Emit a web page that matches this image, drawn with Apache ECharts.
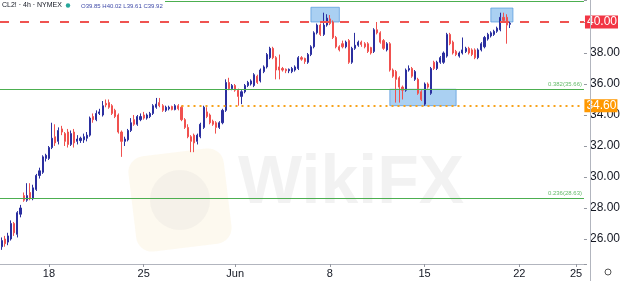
<!DOCTYPE html>
<html><head><meta charset="utf-8">
<script src="https://cdn.jsdelivr.net/npm/echarts@6/dist/echarts.min.js"></script>
<style>html,body{margin:0;padding:0;background:#fff}#c{width:623px;height:281px}</style>
</head><body><div id="c"></div>
<script>
// 4h candles, CL2! (NYMEX), mid-May to 19 Jun
const opens = [25.5,26.0,25.8,26.0,27.0,26.3,27.6,28.8,28.5,29.0, 28.6,29.2,30.1,30.3,31.2,31.2,31.9,32.6,32.3,33.1, 32.8,32.9,32.1,32.9,32.3,32.35,32.4,32.5,32.7,33.9, 33.7,34.1,34.0,34.75,34.8,34.6,34.3,34.0,32.9,32.3, 32.4,33.0,33.7,33.4,33.7,34.0,33.8,33.9,34.1,34.5, 34.8,34.6,34.3,34.4,34.55,34.35,34.6,34.5,33.7,33.2, 32.6,32.7,32.3,32.6,33.2,34.2,34.0,33.6,33.5,33.2, 33.5,34.3,36.1,35.7,35.9,35.6,35.2,35.5,35.9,36.0, 35.9,36.5,36.2,36.8,37.1,37.7,38.3,37.7,37.1,37.0, 36.95,36.85,36.8,36.9,37.0,37.7,37.65,37.4,37.9,38.4, 39.3,39.8,39.2,39.8,40.2,40.0,39.0,38.4,38.6,38.4, 38.8,37.4,38.3,38.5,38.7,38.6,38.6,38.35,38.1,39.5, 39.3,38.8,38.2,38.6,36.9,36.8,36.4,35.8,35.6,36.9, 37.0,36.3,36.3,35.5,34.7,36.0,35.4,37.4,37.0,37.4, 37.4,37.8,39.2,38.7,38.1,37.8,38.0,38.1,38.3,38.2, 38.2,37.7,38.2,38.4,38.9,39.1,39.2,39.4,39.5,40.3, 40.3,39.85];
const closes = [25.9,25.7,26.2,27.0,26.4,27.7,28.0,28.5,28.8,28.6, 29.3,30.1,30.4,31.3,31.4,31.9,32.5,32.2,33.0,32.9, 32.3,32.1,32.8,32.2,32.45,32.5,32.6,32.7,33.8,33.7, 34.1,34.2,34.6,34.65,34.5,34.1,33.9,32.9,32.3,32.45, 33.0,33.5,33.4,33.9,33.9,33.8,34.0,34.1,34.6,34.7, 34.6,34.3,34.5,34.5,34.35,34.6,34.4,33.7,33.2,32.6, 32.3,32.2,32.7,33.4,34.5,33.9,33.5,33.4,33.2,33.5, 34.3,36.1,35.7,35.9,35.6,35.2,35.5,35.9,36.1,36.2, 36.6,36.1,36.9,37.1,37.9,38.3,37.7,36.9,36.9,36.9, 36.85,36.95,37.0,37.1,37.7,37.6,37.45,37.9,38.4,39.3, 39.8,39.2,39.8,40.25,39.9,39.0,38.4,38.2,38.4,38.7, 37.4,38.3,38.5,38.7,38.55,38.4,38.1,38.0,39.5,39.3, 38.7,38.3,38.6,36.9,36.5,36.3,35.8,35.6,36.9,37.0, 36.5,36.8,35.4,35.0,36.0,35.8,37.0,37.0,37.4,37.7, 38.0,39.2,38.6,38.0,37.9,38.0,38.2,38.3,38.0,37.9, 37.7,38.2,38.6,39.0,39.2,39.3,39.4,39.6,40.3,40.1, 39.8,39.92];
const lows = [25.3,25.5,25.6,25.9,26.2,26.1,27.4,28.4,28.4,28.5, 28.5,29.1,29.9,30.2,31.0,31.1,31.8,32.0,32.1,32.7, 32.0,31.9,32.0,31.9,32.1,32.2,32.2,32.3,32.6,33.5, 33.6,34.0,33.9,34.5,34.4,34.0,33.8,32.8,31.3,32.0, 32.3,32.9,33.3,33.3,33.6,33.7,33.7,33.8,34.0,34.4, 34.5,34.2,34.2,34.3,34.3,34.3,34.3,33.6,33.1,32.5, 31.6,31.6,32.1,32.5,33.1,33.8,33.4,33.3,32.8,33.1, 33.4,34.2,35.6,35.6,35.5,34.6,34.7,35.4,35.8,35.9, 35.8,36.0,36.1,36.7,37.0,37.6,37.6,36.3,36.3,36.8, 36.7,36.7,36.7,36.8,36.9,37.5,37.3,37.3,37.8,38.3, 39.2,39.1,39.1,39.7,39.8,38.9,38.3,38.1,38.3,38.3, 37.3,37.3,38.2,38.4,38.4,38.3,38.0,37.9,38.0,39.2, 38.6,38.2,38.1,36.8,36.4,34.8,34.8,35.0,35.5,36.8, 36.4,36.2,35.3,34.9,34.6,35.7,35.3,36.9,36.9,37.3, 37.3,37.7,38.5,37.9,37.8,37.7,37.9,38.0,37.9,37.8, 37.6,37.6,38.1,38.3,38.8,39.0,39.1,39.3,39.4,40.0, 38.6,39.61];
const highs = [26.1,26.2,26.4,27.2,27.1,27.8,28.2,29.0,29.6,29.6, 29.5,30.2,30.6,31.4,31.5,32.0,33.5,33.4,33.2,33.3, 32.9,33.1,33.0,33.1,32.7,32.6,32.8,32.9,33.9,34.1, 34.3,34.4,34.9,35.0,35.0,34.7,34.4,34.1,33.0,32.6, 33.1,33.8,34.0,34.0,34.1,34.2,34.1,34.2,34.7,35.1, 35.1,34.7,34.6,34.6,34.6,34.7,34.7,34.6,33.8,33.4, 32.7,32.8,32.8,33.5,34.6,34.5,34.1,33.7,33.6,33.6, 34.4,36.3,36.4,36.0,36.0,35.7,35.6,36.0,36.2,36.3, 36.7,36.6,37.0,37.2,38.0,38.4,38.4,37.8,37.9,37.1, 37.0,37.0,37.1,37.2,37.8,37.8,37.7,38.0,38.5,39.4, 39.9,39.9,40.6,40.5,40.45,40.1,39.1,38.5,38.8,38.8, 38.9,38.4,39.3,38.8,38.8,38.7,38.7,38.4,39.6,40.0, 39.4,38.9,38.7,38.7,37.0,36.9,36.5,35.9,37.0,37.2, 37.1,36.9,36.4,35.6,36.1,36.1,37.1,37.5,37.5,37.8, 38.1,39.3,39.3,38.8,38.2,38.1,39.0,38.4,38.4,38.3, 38.3,38.3,38.7,39.1,39.3,39.4,39.5,39.7,40.6,40.6, 40.5,40.02];

const slotCount = 185;                       // bar slots shown on the time axis
const tickIndex = [15, 45, 74, 104, 134, 164, 182];
const tickLabels = ['18', '25', 'Jun', '8', '15', '22', '25'];

const resistance = 40.00;
const support = 34.60;
const fibTop = 41.35;
const fib382 = 35.66;
const fib236 = 28.63;
const supportStart = 57;                      // bar where the 34.60 line begins

// highlighted zones [startBar, endBar, low, high]
const zones = [[98, 107, 40.0, 40.95], [123, 144, 34.6, 35.66], [155, 162, 40.0, 40.9]];

const cats = Array.from({length: slotCount}, (_, i) => String(i));
const candles = opens.map((o, i) => [o, closes[i], lows[i], highs[i]]);
const labelOf = {};
tickIndex.forEach((t, k) => labelOf[t] = tickLabels[k]);

const chart = echarts.init(document.getElementById('c'), null, {renderer: 'canvas'});
const FONT = 'Liberation Sans';
const green = '#4caf50';

chart.setOption({
  animation: false,
  backgroundColor: '#ffffff',
  grid: {left: 0, right: 33, top: 0, bottom: 17},
  xAxis: {
    type: 'category', data: cats, boundaryGap: true,
    axisLine: {lineStyle: {color: '#b2b5be', width: 1}},
    axisTick: {show: true, alignWithLabel: true, length: 3, interval: (i) => labelOf[i] !== undefined, lineStyle: {color: '#9598a1'}},
    axisLabel: {interval: (i) => labelOf[i] !== undefined, formatter: (v, i) => labelOf[i] || '', color: '#131722', fontSize: 11, fontFamily: FONT, margin: 4},
    splitLine: {show: false}
  },
  yAxis: {
    type: 'value', position: 'right', min: 24.387, max: 41.419, splitNumber: 8,
    axisLine: {show: false},
    axisTick: {show: true, length: 3, lineStyle: {color: '#9598a1'}},
    splitLine: {show: false},
    axisLabel: {
      color: '#131722', fontSize: 12, fontFamily: FONT, margin: 6,
      formatter: (v) => { const r = Math.round(v); if (Math.abs(v - r) > 1e-6 || r % 2 !== 0 || r === 40) return ''; return v.toFixed(2); }
    }
  },
  series: [{
    type: 'candlestick', data: candles, barWidth: 1.6,
    itemStyle: {color: '#2b2f9f', color0: '#f0514f', borderColor: '#2b2f9f', borderColor0: '#f0514f', borderWidth: 1},
    markArea: {
      silent: true,
      itemStyle: {color: 'rgba(100,170,232,0.55)', borderColor: 'rgba(80,150,220,0.7)', borderWidth: 1},
      data: zones.map(z => [{xAxis: z[0], yAxis: z[2]}, {xAxis: z[1], yAxis: z[3]}])
    },
    markLine: {
      silent: true, symbol: 'none', animation: false,
      data: [
        {yAxis: fibTop, lineStyle: {color: green, width: 1, type: 'solid'}, label: {show: false}},
        {yAxis: fib382, lineStyle: {color: green, width: 1, type: 'solid'},
          label: {show: true, position: 'insideEndTop', formatter: '0.382(35.66)', fontSize: 6, color: '#66bb6a', fontFamily: FONT, distance: 2}},
        {yAxis: fib236, lineStyle: {color: green, width: 1, type: 'solid'},
          label: {show: true, position: 'insideEndTop', formatter: '0.236(28.63)', fontSize: 6, color: '#66bb6a', fontFamily: FONT, distance: 2}},
        {yAxis: resistance, lineStyle: {color: '#ef5350', width: 2, type: [9, 11]},
          label: {show: true, position: 'end', distance: 1, formatter: resistance.toFixed(2), color: '#ffffff', backgroundColor: '#f23645', padding: [1, 1, 0, 2], fontSize: 12, fontFamily: FONT}},
        [{coord: [supportStart, support], lineStyle: {color: '#f7a21b', width: 2, type: [2, 4]},
          label: {show: true, position: 'end', distance: 2, formatter: support.toFixed(2), color: '#ffffff', backgroundColor: '#ff9800', padding: [1, 1, 0, 2], fontSize: 12, fontFamily: FONT}},
         {coord: [slotCount - 1, support]}]
      ]
    }
  }],
  graphic: [
    // watermark
    {type: 'group', z: 0, silent: true, children: [
      {type: 'rect', shape: {x: 132, y: 152, width: 96, height: 96, r: 16}, rotation: 0.12, originX: 180, originY: 200,
        style: {fill: 'rgba(245,228,180,0.22)'}},
      {type: 'circle', shape: {cx: 180, cy: 200, r: 30}, style: {fill: 'rgba(200,200,200,0.14)'}},
      {type: 'text', x: 238, y: 150, style: {text: 'WikiFX', font: 'bold 68px ' + FONT, fill: 'rgba(170,170,170,0.15)'}}
    ]},
    {type: 'line', z: 50, shape: {x1: 590.5, y1: 0, x2: 590.5, y2: 281}, style: {stroke: '#b2b5be', lineWidth: 1}},
    {type: 'rect', z: 60, shape: {x: 0, y: 0, width: 165, height: 12}, style: {fill: '#ffffff'}},
    {type: 'text', z: 61, x: 2, y: 2, style: {text: 'CL2! · 4h · NYMEX', font: '7px ' + FONT, fill: '#131722'}},
    {type: 'circle', z: 61, shape: {cx: 68, cy: 5.5, r: 2.2}, style: {fill: '#26a69a'}},
    {type: 'text', z: 61, x: 81, y: 3, style: {text: 'O39.85 H40.02 L39.61 C39.92', font: '6px ' + FONT, fill: '#3f4aa8'}},
    {type: 'circle', z: 61, shape: {cx: 608, cy: 272, r: 3}, style: {fill: 'none', stroke: '#555', lineWidth: 1}}
  ]
});
</script></body></html>
